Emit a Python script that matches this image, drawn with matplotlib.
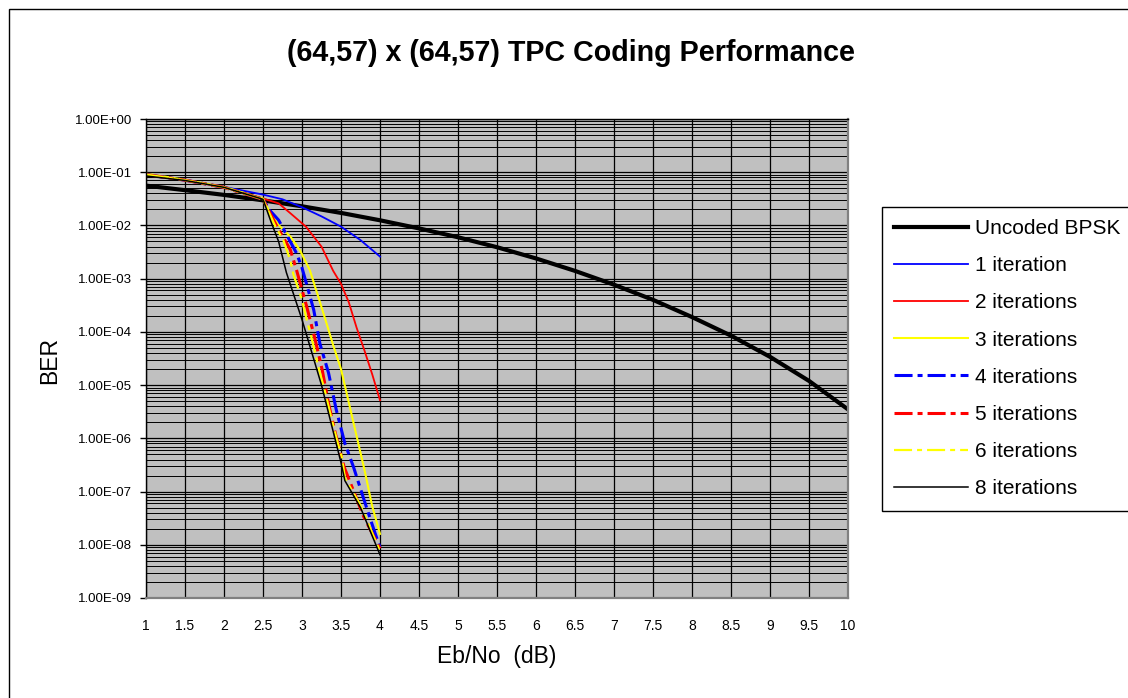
import matplotlib
matplotlib.use("Agg")
import matplotlib.pyplot as plt
import matplotlib.ticker as mticker
from matplotlib.patches import Rectangle

plt.rcParams['font.family'] = ['Liberation Sans', 'DejaVu Sans']

# data
ebno_bpsk = [1, 1.5, 2, 2.5, 3, 3.5, 4, 4.5, 5, 5.5, 6, 6.5, 7, 7.5, 8, 8.5, 9, 9.5, 10]
ber_bpsk = [0.056, 0.046, 0.0375, 0.0296, 0.0229, 0.0172, 0.0125, 0.0088, 0.006, 0.0039,
            0.0024, 0.0014, 0.00077, 0.0004, 0.00019, 8.5e-5, 3.4e-5, 1.2e-5, 3.5e-6]

ebno_it1 = [1, 1.5, 2, 2.5, 2.75, 3, 3.25, 3.5, 3.75, 4]
ber_it1 = [0.09, 0.071, 0.053, 0.038, 0.031, 0.022, 0.0148, 0.0095, 0.0053, 0.0026]

ebno_it2 = [1, 1.5, 2, 2.5, 2.7, 2.85, 3.05, 3.25, 3.4, 3.5, 3.6, 3.7, 3.8, 3.9, 4]
ber_it2 = [0.09, 0.071, 0.052, 0.032, 0.026, 0.017, 0.0095, 0.004, 0.0014, 8e-4,
           3.6e-4, 1.2e-4, 4.5e-5, 1.6e-5, 5.2e-6]

ebno_it3 = [1, 1.5, 2, 2.5, 2.59, 2.72, 2.85, 2.97, 3.1, 3.2, 3.3, 3.4, 3.5, 3.6, 3.7,
            3.8, 3.9, 4]
ber_it3 = [0.094, 0.072, 0.053, 0.032, 0.017, 0.0095, 0.0062, 0.0035, 0.00145, 5e-4,
           1.7e-4, 5.6e-5, 2e-5, 4.7e-6, 1.1e-6, 2.6e-7, 5.3e-8, 1.6e-8]

ebno_it4 = [1, 1.5, 2, 2.5, 2.59, 2.7, 2.8, 2.93, 3.0, 3.08, 3.15, 3.23, 3.34, 3.44,
            3.55, 3.66, 3.81, 3.94, 4]
ber_it4 = [0.09, 0.071, 0.052, 0.031, 0.019, 0.0126, 0.0068, 0.003, 0.0016, 6.1e-4,
           2.6e-4, 6e-5, 1.7e-5, 3.4e-6, 8e-7, 2.9e-7, 6e-8, 1.6e-8, 9e-9]

ebno_it5 = [1, 1.5, 2, 2.5, 2.68, 2.85, 2.93, 3.06, 3.17, 3.26, 3.34, 3.43, 3.54, 3.69,
            3.79, 4]
ber_it5 = [0.09, 0.071, 0.052, 0.031, 0.0095, 0.0035, 0.00145, 3e-4, 7e-5, 1.9e-5,
           4.5e-6, 1.2e-6, 2.9e-7, 8e-8, 3.4e-8, 8.5e-9]

ebno_it6 = [1, 1.5, 2, 2.5, 2.66, 2.76, 2.85, 2.89, 3.0, 3.06, 3.13, 3.21, 3.3, 3.36,
            3.45, 3.51, 3.55, 3.75, 4]
ber_it6 = [0.09, 0.071, 0.052, 0.031, 0.0095, 0.0053, 0.0022, 0.0012, 4e-4, 1.7e-4,
           7e-5, 2.2e-5, 7e-6, 3e-6, 9e-7, 4.5e-7, 1.8e-7, 5.5e-8, 7.5e-9]

ebno_it8 = [1, 1.5, 2, 2.5, 2.6, 2.7, 2.8, 3.0, 3.25, 3.5, 3.55, 3.75, 4]
ber_it8 = [0.085, 0.07, 0.052, 0.031, 0.012, 0.005, 0.0013, 1.7e-4, 1.0e-5, 3.5e-7,
           1.6e-7, 5e-8, 6.5e-9]

xticks = [1 + 0.5 * i for i in range(19)]
yticks = [10.0 ** -k for k in range(10)]


def dash_dot(lw):
    # dash pattern in points, independent of line width
    return (0, (13 / lw, 3.6 / lw, 3.6 / lw, 3.6 / lw))


fig = plt.figure(figsize=(11.28, 6.98), dpi=100)
ax = fig.add_axes([146 / 1128, 1 - 598 / 698, (848 - 146) / 1128, (598 - 119) / 698])
ax.set_facecolor('#C0C0C0')

ax.plot(ebno_bpsk, ber_bpsk, color='black', lw=3.0, label='Uncoded BPSK')
ax.plot(ebno_it1, ber_it1, color='#0000FF', lw=1.3, label='1 iteration')
ax.plot(ebno_it2, ber_it2, color='#FF0000', lw=1.3, label='2 iterations')
ax.plot(ebno_it3, ber_it3, color='#FFFF00', lw=1.5, label='3 iterations')
ax.plot(ebno_it4, ber_it4, color='#0000FF', lw=2.2, ls=dash_dot(2.2), label='4 iterations')
ax.plot(ebno_it5, ber_it5, color='#FF0000', lw=2.2, ls=dash_dot(2.2), label='5 iterations')
ax.plot(ebno_it6, ber_it6, color='#FFFF00', lw=1.6, ls=dash_dot(1.6), label='6 iterations')
ax.plot(ebno_it8, ber_it8, color='black', lw=1.1, label='8 iterations')

ax.set_yscale('log')
ax.set_xlim(1, 10)
ax.set_ylim(1e-9, 1)
ax.set_xticks(xticks)
ax.set_xticklabels([f'{v:g}' for v in xticks])
ax.set_yticks(yticks)
ax.yaxis.set_major_formatter(mticker.FuncFormatter(lambda v, p: f'{v:.2E}'))
ax.yaxis.set_minor_locator(mticker.LogLocator(base=10, subs=range(2, 10), numticks=20))
ax.yaxis.set_minor_formatter(mticker.NullFormatter())

ax.grid(True, which='major', axis='both', color='black', lw=0.9)
ax.grid(True, which='minor', axis='y', color='black', lw=0.7)
ax.set_axisbelow(True)

ax.tick_params(axis='x', length=0, pad=15, labelsize=10)
ax.tick_params(axis='y', which='major', length=4.3, width=1, direction='out', pad=5.8,
               labelsize=9.5)
ax.tick_params(axis='y', which='minor', length=0)

for side in ['left', 'top']:
    ax.spines[side].set_color('black')
    ax.spines[side].set_linewidth(1)
for side in ['right', 'bottom']:
    ax.spines[side].set_color('#808080')
    ax.spines[side].set_linewidth(1.6)

fig.text(571 / 1128, 1 - 53 / 698, '(64,57) x (64,57) TPC Coding Performance',
         ha='center', va='center', fontsize=20.6, fontweight='bold')
fig.text(50 / 1128, 1 - 360 / 698, 'BER', rotation=90, ha='center', va='center',
         fontsize=16.5)
fig.text(497 / 1128, 1 - 657 / 698, 'Eb/No  (dB)', ha='center', va='center', fontsize=16.5)

leg = fig.legend(loc='upper left', bbox_to_anchor=(881.7 / 1128, 1 - 206.7 / 698),
                 bbox_transform=fig.transFigure, fontsize=15, frameon=True,
                 fancybox=False, framealpha=1, edgecolor='black', borderaxespad=0,
                 handlelength=3.55, handletextpad=0.33, borderpad=0.6, labelspacing=0.87)
leg.get_frame().set_linewidth(1)

# outer chart border
fig.patches.append(Rectangle((9 / 1128, -0.05), 1.2, 1 - 9 / 698 + 0.05,
                             transform=fig.transFigure, fill=False, edgecolor='black',
                             lw=1))

fig.savefig('out.png', dpi=100)
